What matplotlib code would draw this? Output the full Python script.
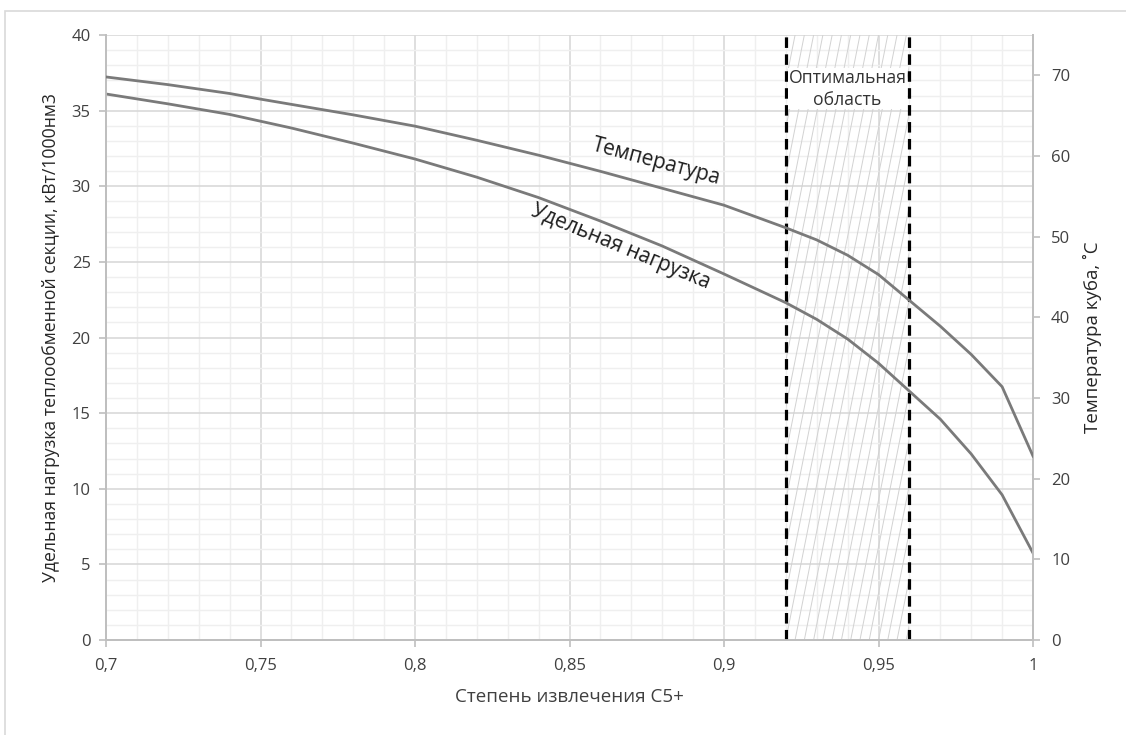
import numpy as np
import matplotlib.pyplot as plt
from matplotlib.ticker import MultipleLocator, FuncFormatter
from matplotlib.patches import Rectangle

plt.rcParams['font.family'] = ['Open Sans', 'DejaVu Sans']

# степень извлечения C5+
x = [0.70, 0.72, 0.74, 0.75, 0.76, 0.78, 0.80, 0.82, 0.84, 0.86, 0.88,
     0.90, 0.92, 0.93, 0.94, 0.95, 0.96, 0.97, 0.98, 0.99, 1.00]
# удельная нагрузка, кВт/1000нм3 (левая ось)
load = [36.1, 35.45, 34.75, 34.3, 33.85, 32.85, 31.8, 30.6, 29.25, 27.7, 26.05,
        24.2, 22.3, 21.2, 19.9, 18.3, 16.45, 14.6, 12.3, 9.6, 5.75]
# температура куба, °C (правая ось)
temp = [69.8, 68.85, 67.75, 67.05, 66.4, 65.1, 63.7, 61.95, 60.1, 58.1, 56.0,
        53.9, 51.1, 49.6, 47.7, 45.3, 42.1, 38.9, 35.4, 31.4, 22.8]

opt_lo, opt_hi = 0.92, 0.96

line_col = '#7a7a7a'
axis_col = '#bfbfbf'
txt_col = '#404040'

fig = plt.figure(figsize=(11.26, 7.35), dpi=100)
fig.patches.append(Rectangle((5 / 1126, -0.1), 1.2, 1.1 - 11 / 735,
                             transform=fig.transFigure, fill=False,
                             edgecolor='#d9d9d9', lw=1.2))
ax = fig.add_axes([106 / 1126, 1 - 640 / 735, (1033 - 106) / 1126, (640 - 35) / 735])
ax2 = ax.twinx()

ax.set_xlim(0.7, 1.0)
ax.set_ylim(0, 40)
ax2.set_ylim(0, 75)

ax.xaxis.set_major_locator(MultipleLocator(0.05))
ax.xaxis.set_minor_locator(MultipleLocator(0.01))
ax.yaxis.set_major_locator(MultipleLocator(5))
ax.yaxis.set_minor_locator(MultipleLocator(1))
ax2.yaxis.set_major_locator(MultipleLocator(10))

comma = FuncFormatter(lambda v, p: f'{v:g}'.replace('.', ','))
ax.xaxis.set_major_formatter(comma)

ax.grid(which='major', color='#d9d9d9', lw=1.2, zorder=0)
ax.grid(which='minor', color='#efefef', lw=1.0, zorder=0)
ax.set_axisbelow(True)

for a in (ax, ax2):
    a.spines['top'].set_visible(False)
    for s in ('left', 'right', 'bottom'):
        a.spines[s].set_color(axis_col)
        a.spines[s].set_linewidth(1.3)
    a.tick_params(which='major', length=5, width=1.2, color=axis_col,
                  labelsize=12, labelcolor=txt_col)
    a.tick_params(which='minor', length=0)
ax.tick_params(axis='x', pad=8)
ax.tick_params(axis='y', pad=6)
ax2.tick_params(axis='y', pad=8)

# оптимальная область: штриховка
rect = Rectangle((opt_lo, 0), opt_hi - opt_lo, 40, transform=ax.transData,
                 facecolor='none', edgecolor='none')
ax.add_patch(rect)
shift = 0.039
for x0 in np.arange(opt_lo - shift, opt_hi, 0.003):
    ln, = ax.plot([x0, x0 + shift], [0, 40], color='#d2d2d2', lw=0.7, zorder=1)
    ln.set_clip_path(rect)

for xv in (opt_lo, opt_hi):
    ax.axvline(xv, color='black', lw=2.3, linestyle=(0, (3.3, 2.0)), zorder=3)

ax.text((opt_lo + opt_hi) / 2, 36.45, 'Оптимальная\nобласть', ha='center', va='center',
        fontsize=12.7, color='#333333', linespacing=1.3, zorder=4,
        bbox=dict(facecolor='white', edgecolor='none', pad=0.5))

ax.plot(x, load, color=line_col, lw=2.0, zorder=4)
ax2.plot(x, temp, color=line_col, lw=2.0, zorder=4)

ax.text(0.878, 31.6, 'Температура', rotation=-15, ha='center', va='center',
        fontsize=15, color='#1e1e1e', rotation_mode='anchor')
ax.text(0.8665, 26.0, 'Удельная нагрузка', rotation=-22.5, ha='center', va='center',
        fontsize=15, color='#1e1e1e', rotation_mode='anchor')

ax.set_xlabel('Степень извлечения C5+', fontsize=13.5, color=txt_col, labelpad=10)
ax.set_ylabel('Удельная нагрузка теплообменной секции, кВт/1000нм3', fontsize=12.7,
              color='#262626', labelpad=8)
ax2.set_ylabel('Температура куба, ˚С', fontsize=13.5, color='#262626', labelpad=9)

fig.savefig('out.png', dpi=100)
